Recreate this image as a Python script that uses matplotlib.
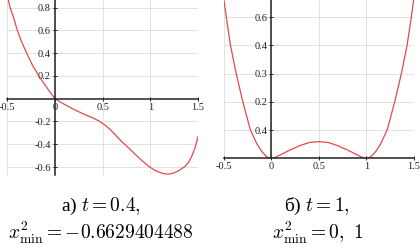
import matplotlib
matplotlib.use("Agg")
import matplotlib.pyplot as plt

plt.rcParams['font.family'] = ['Liberation Serif', 'DejaVu Serif']
plt.rcParams['mathtext.fontset'] = 'cm'

# panel a) t = 0.4
xa = [-0.5, -0.47, -0.43, -0.395, -0.35, -0.297, -0.24, -0.17, -0.1, -0.05, 0.0,
      0.05, 0.1, 0.2, 0.3, 0.4, 0.47, 0.53, 0.577, 0.63, 0.68, 0.73, 0.787, 0.85, 0.9,
      0.95, 0.99, 1.04, 1.08, 1.13, 1.17, 1.21, 1.25, 1.29, 1.32, 1.364, 1.4, 1.43,
      1.47, 1.5]
ya = [0.90, 0.80, 0.70, 0.60, 0.50, 0.40, 0.30, 0.20, 0.115, 0.055, 0.0,
      -0.026, -0.05, -0.095, -0.135, -0.17, -0.20, -0.235, -0.27, -0.315, -0.36, -0.40,
      -0.444, -0.495, -0.535, -0.57, -0.598, -0.625, -0.642, -0.656, -0.662, -0.66,
      -0.651, -0.635, -0.62, -0.595, -0.56, -0.515, -0.43, -0.333]

# panel б) t = 1
xb = [-0.5, -0.47, -0.43, -0.37, -0.3, -0.22, -0.15, -0.1, -0.06, -0.03, 0.0, 0.04,
      0.1, 0.2, 0.25, 0.3, 0.4, 0.5, 0.6, 0.7, 0.75, 0.8, 0.9, 0.96, 1.0, 1.03, 1.06,
      1.1, 1.15, 1.22, 1.3, 1.37, 1.43, 1.47, 1.5]
yb = [0.561, 0.49, 0.40, 0.30, 0.20, 0.10, 0.05, 0.024, 0.009, 0.002, 0.0, 0.003,
      0.013, 0.03, 0.037, 0.045, 0.056, 0.059, 0.056, 0.045, 0.037, 0.03, 0.013, 0.003,
      0.0, 0.002, 0.009, 0.024, 0.05, 0.10, 0.20, 0.30, 0.40, 0.49, 0.561]

xticks = [-0.5, 0, 0.5, 1, 1.5]
xtick_labels = ['-0.5', '0', '0.5', '1', '1.5']
yticks_a = [-0.6, -0.4, -0.2, 0.2, 0.4, 0.6, 0.8]
ytick_labels_a = ['-0.6', '-0.4', '-0.2', '0.2', '0.4', '0.6', '0.8']
yticks_b = [0.1, 0.2, 0.3, 0.4, 0.5]
ytick_labels_b = ['0.4', '0.2', '0.3', '0.4', '0.6']

fig = plt.figure(figsize=(4.2, 2.48), dpi=100)
ax1 = fig.add_axes([0.0174, 0.2944, 0.454, 0.7056])
ax2 = fig.add_axes([0.533, 0.3617, 0.452, 0.6383])

red = '#e24a4a'
grid_c = '#e2e2e2'

def style(ax):
    ax.spines['top'].set_visible(False)
    ax.spines['right'].set_visible(False)
    ax.spines['left'].set_position(('data', 0))
    ax.spines['bottom'].set_position(('data', 0))
    for s in ('left', 'bottom'):
        ax.spines[s].set_linewidth(1.1)
        ax.spines[s].set_color('#222222')
    ax.tick_params(direction='inout', length=3, width=0.7, labelsize=7.5,
                   pad=1.5, colors='#222222')
    ax.grid(True, color=grid_c, linewidth=0.7)
    ax.set_axisbelow(True)
    ax.set_facecolor('none')

ax1.plot(xa, ya, color=red, linewidth=0.9)
ax1.set_xlim(-0.5, 1.5)
ax1.set_ylim(-0.67, 0.866)
ax1.set_xticks(xticks, xtick_labels)
ax1.set_yticks(yticks_a, ytick_labels_a)
style(ax1)

ax2.plot(xb, yb, color=red, linewidth=0.9)
ax2.set_xlim(-0.5, 1.5)
ax2.set_ylim(0, 0.561)
ax2.set_xticks(xticks, xtick_labels)
ax2.set_yticks(yticks_b, ytick_labels_b)
style(ax2)

fig.text(0.24, 0.168, 'а) $t = 0.4,$', ha='center', va='center', fontsize=14)
fig.text(0.24, 0.06, r'$x^2_{\min} = -0.6629404488$', ha='center', va='center', fontsize=14)
fig.text(0.755, 0.168, 'б) $t = 1,$', ha='center', va='center', fontsize=14)
fig.text(0.757, 0.06, r'$x^2_{\min} = 0,\ 1$', ha='center', va='center', fontsize=14)

fig.savefig('out.png', dpi=100)
